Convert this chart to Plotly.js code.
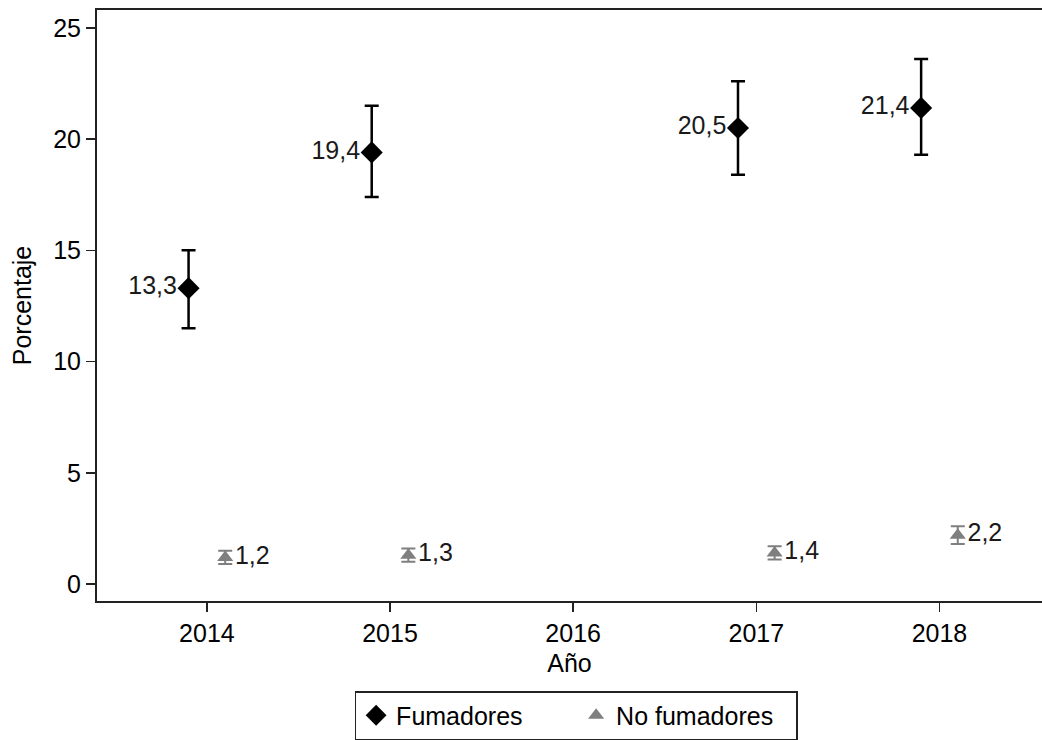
<!DOCTYPE html>
<html>
<head>
<meta charset="utf-8">
<script src="https://cdn.plot.ly/plotly-3.0.1.min.js"></script>
<style>html,body{margin:0;padding:0;background:#fff;}#chart{width:1042px;height:740px;}</style>
</head>
<body>
<div id="chart"></div>
<script>
const years = [2014, 2015, 2017, 2018];
const fumadores = [13.3, 19.4, 20.5, 21.4];
const fumadoresLow = [11.5, 17.4, 18.4, 19.3];
const fumadoresHigh = [15.0, 21.5, 22.6, 23.6];
const noFumadores = [1.2, 1.3, 1.4, 2.2];
const noFumadoresLow = [0.9, 1.0, 1.1, 1.8];
const noFumadoresHigh = [1.5, 1.6, 1.7, 2.6];
const xTicks = [2014, 2015, 2016, 2017, 2018];
const yTicks = [0, 5, 10, 15, 20, 25];

const fmt = v => v.toFixed(1).replace('.', ',');
const font = 'Liberation Sans, Arial, sans-serif';
const FS = 25;

const traces = [
  {
    name: 'Fumadores',
    type: 'scatter', mode: 'markers+text',
    x: years.map(y => y - 0.1),
    y: fumadores,
    text: fumadores.map(fmt),
    textposition: 'middle left',
    textfont: {family: font, size: FS, color: '#1a1a1a'},
    marker: {symbol: 'diamond', size: 17, color: '#000'},
    error_y: {type: 'data', symmetric: false,
      array: fumadores.map((v, i) => fumadoresHigh[i] - v),
      arrayminus: fumadores.map((v, i) => v - fumadoresLow[i]),
      color: '#000', thickness: 2.5, width: 7},
    cliponaxis: false
  },
  {
    name: 'No fumadores',
    type: 'scatter', mode: 'markers+text',
    x: years.map(y => y + 0.1),
    y: noFumadores,
    text: noFumadores.map(fmt),
    textposition: 'middle right',
    textfont: {family: font, size: FS, color: '#1a1a1a'},
    marker: {symbol: 'triangle-up', size: 14, color: '#7f7f7f'},
    error_y: {type: 'data', symmetric: false,
      array: noFumadores.map((v, i) => noFumadoresHigh[i] - v),
      arrayminus: noFumadores.map((v, i) => v - noFumadoresLow[i]),
      color: '#7f7f7f', thickness: 2, width: 7},
    cliponaxis: false
  }
];

const layout = {
  width: 1042, height: 740,
  margin: {l: 97, r: 0, t: 10, b: 138},
  paper_bgcolor: '#fff', plot_bgcolor: '#fff',
  font: {family: font, size: FS, color: '#000'},
  showlegend: true,
  legend: {
    orientation: 'h', x: 0.507, xanchor: 'center', y: -0.152, yanchor: 'top',
    bordercolor: '#222', borderwidth: 1.5, font: {family: font, size: FS, color: '#000'},
    itemwidth: 30, tracegroupgap: 0, entrywidth: 175, entrywidthmode: 'pixels'
  },
  xaxis: {
    range: [2013.4, 2018.56],
    tickvals: xTicks, ticktext: xTicks.map(String),
    showgrid: false, zeroline: false,
    showline: true, linecolor: '#222', linewidth: 2, mirror: true,
    ticks: 'outside', ticklen: 9, tickwidth: 1.5, tickcolor: '#222',
    tickfont: {family: font, size: FS, color: '#000'},
    title: {text: 'Año', font: {family: font, size: FS, color: '#000'}, standoff: 8}
  },
  yaxis: {
    range: [-0.76, 25.8],
    tickvals: yTicks, ticktext: yTicks.map(String),
    showgrid: false, zeroline: false,
    showline: true, linecolor: '#222', linewidth: 2,
    ticks: 'outside', ticklen: 9, tickwidth: 1.5, tickcolor: '#222',
    tickfont: {family: font, size: FS, color: '#000'},
    title: {text: 'Porcentaje', font: {family: font, size: FS, color: '#000'}, standoff: 14}
  }
};

Plotly.newPlot('chart', traces, layout, {displayModeBar: false, staticPlot: true});
</script>
</body>
</html>
